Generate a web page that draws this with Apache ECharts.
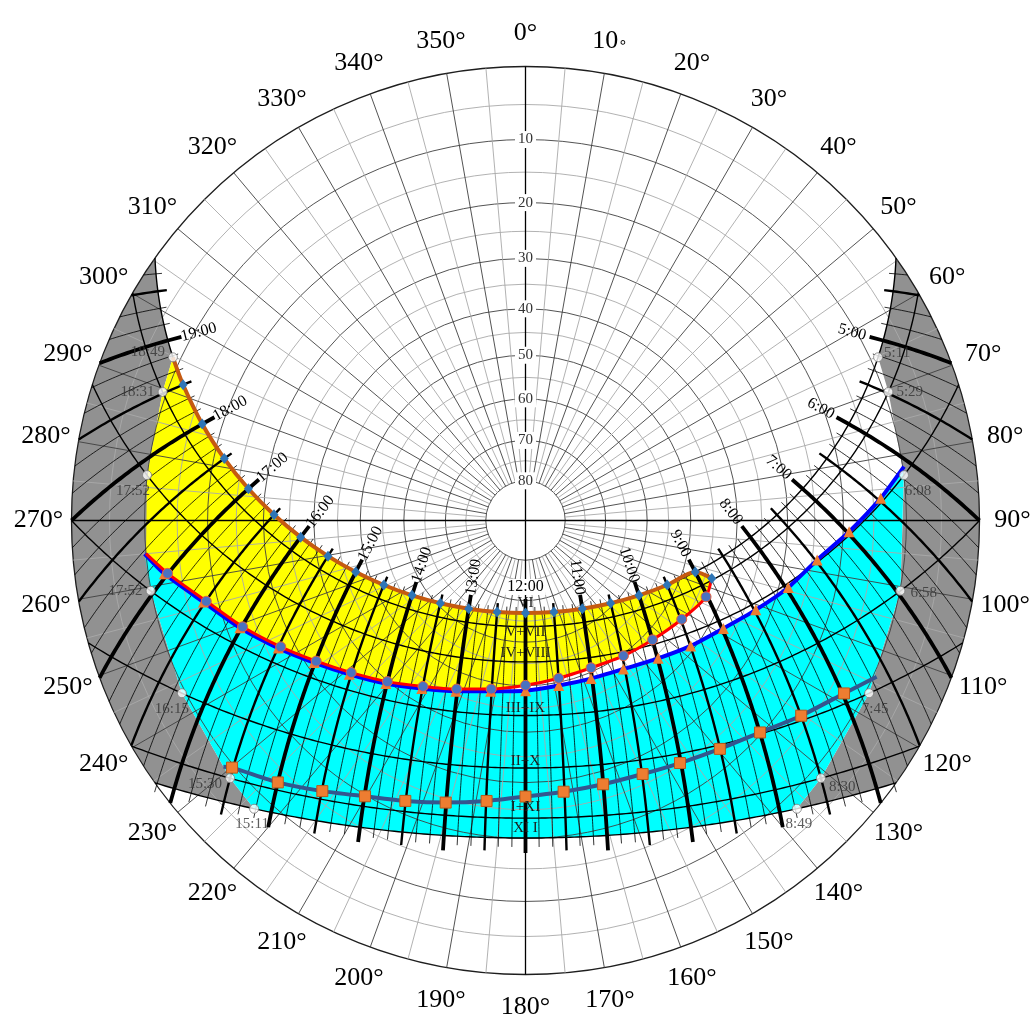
<!DOCTYPE html>
<html>
<head>
<meta charset="utf-8">
<title>Sun path diagram</title>
<script src="https://cdn.jsdelivr.net/npm/echarts@6.0.0/dist/echarts.min.js"></script>
<style>
  html, body { margin: 0; padding: 0; background: #ffffff; }
  #chart { width: 1034px; height: 1017px; }
</style>
</head>
<body>
<div id="chart"></div>
<script>
// ---------------------------------------------------------------
// Sun path diagram (stereographic projection), latitude 46.5° N
// ---------------------------------------------------------------
const LATITUDE = 46.5;

// month lines: label and solar declination in degrees
const monthLabels = ['VI', 'V+VII', 'IV+VIII', 'III+IX', 'II+X', 'I+XI', 'XI I'];
const monthDecl   = [23.44, 20.2, 11.9, 0.0, -10.7, -20.0, -23.44];

// labelled hour lines (solar time)
const hourLabels = ['5:00', '6:00', '7:00', '8:00', '9:00', '10:00', '11:00', '12:00',
                    '13:00', '14:00', '15:00', '16:00', '17:00', '18:00', '19:00'];

// azimuth and altitude graduations
const azimuthTicks  = [0, 10, 20, 30, 40, 50, 60, 70, 80, 90, 100, 110, 120, 130, 140, 150, 160, 170,
                       180, 190, 200, 210, 220, 230, 240, 250, 260, 270, 280, 290, 300, 310, 320, 330, 340, 350];
const azimuthText   = azimuthTicks.map(a => a === 10 ? '10{ring|\u2218}' : a + '\u00b0');
const altitudeTicks = [10, 20, 30, 40, 50, 60, 70, 80];

// times at which each month line (VI ... XII) meets the skyline
const morningTimes  = ['5:11', '5:29', '6:08', '6:58', '7:45', '8:30', '8:49'];
const eveningTimes  = ['18:49', '18:31', '17:52', '17:02', '16:15', '15:30', '15:11'];
const eveningLabels = ['18:49', '18:31', '17:52', '17:52', '16:15', '15:30', '15:11'];

// June line with half-hour markers, closed by its corner point [azimuth, altitude]
const juneTimes  = ['18:49', '18:30', '18:00', '17:30', '17:00', '16:30', '16:00', '15:30', '15:00', '14:30',
                    '14:00', '13:30', '13:00', '12:30', '12:00', '11:30', '11:00', '10:30', '10:00', '9:30', '9:00'];
const juneCorner = [107.3, 43.5];

// marked paths, [azimuth°, altitude°], listed from west to east
const redPath = [
  [265.0, 10.0], [261.6, 12.9], [255.8, 18.1], [249.4, 22.7], [242.7, 27.5], [236.1, 31.9],
  [228.9, 36.0], [220.6, 39.9], [211.7, 43.5], [202.2, 46.3], [191.5, 48.5], [180.0, 50.1],
  [168.1, 50.9], [156.0, 50.9], [144.1, 49.6], [133.2, 48.0], [122.3, 45.7], [112.9, 43.3],
  [107.3, 43.5]
];
const bluePath = [
  [265.0, 9.8], [261.6, 12.4], [255.8, 17.6], [249.4, 22.2], [242.7, 27.0], [236.1, 31.4],
  [228.9, 35.5], [220.6, 39.4], [211.7, 43.0], [202.2, 45.8], [191.5, 48.0], [180.0, 48.9],
  [168.6, 49.3], [157.5, 48.7], [146.6, 47.2], [136.1, 44.3], [127.2, 40.9], [118.6, 37.2],
  [111.2, 32.9], [104.3, 28.3], [97.7, 24.1], [92.0, 19.0], [86.4, 13.8], [81.9, 9.8]
];
const squarePath = [
  [230.8, 8.7], [229.9, 9.6], [223.4, 13.1], [216.9, 16.6], [210.2, 19.8], [203.2, 22.2],
  [195.8, 24.3], [187.9, 26.1], [180.0, 27.4], [172.0, 27.8], [163.6, 27.6], [155.2, 26.8],
  [147.5, 25.3], [139.6, 23.1], [132.1, 20.3], [125.3, 16.7], [118.5, 12.8], [114.0, 9.5]
];

// ---------------------------------------------------------------
// geometry helpers
// ---------------------------------------------------------------
const D2R = Math.PI / 180;
// stereographic radius of an altitude (horizon = 1, zenith = 0)
const proj = alt => Math.tan((90 - alt) * D2R / 2);
const polarValue = ([az, alt]) => [proj(alt), az];
const parseTime = s => { const [h, m] = s.split(':').map(Number); return h + m / 60; };

// sun azimuth / altitude for a declination and a solar time
function sunPos(dec, hour) {
  const H = (hour - 12) * 15 * D2R, d = dec * D2R, p = LATITUDE * D2R;
  const up = Math.sin(p) * Math.sin(d) + Math.cos(p) * Math.cos(d) * Math.cos(H);
  const east = -Math.cos(d) * Math.sin(H);
  const north = Math.cos(p) * Math.sin(d) - Math.sin(p) * Math.cos(d) * Math.cos(H);
  let az = Math.atan2(east, north) / D2R;
  if (az < 0) az += 360;
  return [az, Math.asin(Math.max(-1, Math.min(1, up))) / D2R];
}
// half length of the day in hours
function halfDay(dec) {
  const c = -Math.tan(LATITUDE * D2R) * Math.tan(dec * D2R);
  return Math.acos(Math.max(-1, Math.min(1, c))) / D2R / 15;
}
// declination at which an hour line reaches the horizon
function horizonDecl(hour) {
  const H = (hour - 12) * 15 * D2R;
  return Math.atan(-Math.cos(H) / Math.tan(LATITUDE * D2R)) / D2R;
}

const DEC_MAX = monthDecl[0], DEC_MIN = monthDecl[monthDecl.length - 1];

function makeTools(api) {
  const C = (az, alt) => api.coord([proj(alt), az]);
  const S = (dec, t) => { const [az, alt] = sunPos(dec, t); return C(az, alt); };
  const path = (dec, t0, t1) => {
    const n = Math.max(2, Math.ceil(Math.abs(t1 - t0) / 0.05));
    const pts = [];
    for (let i = 0; i <= n; i++) pts.push(S(dec, t0 + (t1 - t0) * i / n));
    return pts;
  };
  const arc = (a0, a1) => {
    const n = Math.max(2, Math.ceil(Math.abs(a1 - a0)));
    const pts = [];
    for (let i = 0; i <= n; i++) pts.push(C(a0 + (a1 - a0) * i / n, 0));
    return pts;
  };
  return { C, S, path, arc };
}

const morningT = morningTimes.map(parseTime);
const eveningT = eveningTimes.map(parseTime);

// ---------------------------------------------------------------
// shaded regions
// ---------------------------------------------------------------
const regionNames = ['skylineWest', 'skylineEast', 'summer', 'winter'];
function renderRegion(params, api) {
  const { C, S, path, arc } = makeTools(api);
  const name = regionNames[params.dataIndex];
  let pts = [], fill = '#919191';
  const hVI = halfDay(DEC_MAX), hXII = halfDay(DEC_MIN);
  if (name === 'skylineEast') {
    const riseVI = 12 - hVI, riseXII = 12 - hXII;
    pts = pts.concat(path(DEC_MAX, riseVI, morningT[0]));
    morningT.forEach((t, i) => pts.push(S(monthDecl[i], t)));
    pts = pts.concat(path(DEC_MIN, morningT[6], riseXII));
    pts = pts.concat(arc(sunPos(DEC_MIN, riseXII)[0], sunPos(DEC_MAX, riseVI)[0]));
  } else if (name === 'skylineWest') {
    const setVI = 12 + hVI, setXII = 12 + hXII;
    pts = pts.concat(path(DEC_MAX, eveningT[0], setVI));
    pts = pts.concat(arc(sunPos(DEC_MAX, setVI)[0], sunPos(DEC_MIN, setXII)[0]));
    pts = pts.concat(path(DEC_MIN, setXII, eveningT[6]));
    for (let i = 6; i >= 0; i--) pts.push(S(monthDecl[i], eveningT[i]));
  } else if (name === 'summer') {
    fill = '#ffff00';
    pts = pts.concat(path(DEC_MAX, eveningT[0], parseTime(juneTimes[juneTimes.length - 1])));
    pts.push(C(juneCorner[0], juneCorner[1]));
    for (let i = redPath.length - 1; i >= 0; i--) pts.push(C(redPath[i][0], redPath[i][1]));
    pts.push(S(monthDecl[2], eveningT[2]));
    pts.push(S(monthDecl[1], eveningT[1]));
  } else {
    fill = '#00ffff';
    bluePath.forEach(p => pts.push(C(p[0], p[1])));
    for (let i = 3; i <= 5; i++) pts.push(S(monthDecl[i], morningT[i]));
    pts = pts.concat(path(DEC_MIN, morningT[6], eveningT[6]));
    for (let i = 5; i >= 3; i--) pts.push(S(monthDecl[i], eveningT[i]));
  }
  return { type: 'polygon', shape: { points: pts }, style: { fill: fill, stroke: 'none' } };
}

// ---------------------------------------------------------------
// grid
// ---------------------------------------------------------------
const ringAlts = Array.from({ length: 17 }, (_, i) => i * 5);          // 0 ... 80
const radialAz = Array.from({ length: 72 }, (_, i) => i * 5).filter(a => a % 90 !== 0);

function renderRing(params, api) {
  const alt = ringAlts[params.dataIndex];
  const c = api.coord([0, 0]);
  const p = api.coord([proj(alt), 0]);
  const r = Math.hypot(p[0] - c[0], p[1] - c[1]);
  const stroke = alt === 0 ? '#1e1e1e' : (alt % 10 === 0 ? '#404040' : '#a9a9a9');
  return { type: 'circle', shape: { cx: c[0], cy: c[1], r: r },
           style: { fill: 'none', stroke: stroke, lineWidth: alt === 0 ? 1.3 : 0.9 } };
}
function renderRadial(params, api) {
  const az = radialAz[params.dataIndex];
  const p0 = api.coord([proj(80), az]);
  const p1 = api.coord([1, az]);
  return { type: 'line', shape: { x1: p0[0], y1: p0[1], x2: p1[0], y2: p1[1] },
           style: { stroke: az % 10 === 0 ? '#404040' : '#a9a9a9', lineWidth: 0.9 } };
}
const crossAz = [0, 90];
function renderCross(params, api) {
  const az = crossAz[params.dataIndex];
  const p0 = api.coord([1, az]);
  const p1 = api.coord([1, az + 180]);
  return { type: 'line', shape: { x1: p0[0], y1: p0[1], x2: p1[0], y2: p1[1] },
           style: { stroke: '#000', lineWidth: 1.3 } };
}

// ---------------------------------------------------------------
// month lines and time lines
// ---------------------------------------------------------------
function renderMonth(params, api) {
  const { path } = makeTools(api);
  const dec = monthDecl[params.dataIndex];
  const h = halfDay(dec);
  return { type: 'polyline', shape: { points: path(dec, 12 - h, 12 + h) },
           style: { stroke: '#000', lineWidth: 1.4, fill: 'none' } };
}

// every ten minutes between the June sunrise and sunset
const tickTimes = [];
for (let m = 4 * 60 + 20; m <= 19 * 60 + 40; m += 10) tickTimes.push(m / 60);
const tickWidth  = [3.8, 2.4, 0.8];   // hour, half hour, ten minutes
const tickTop    = [14, 9, 6];
const tickBottom = [15, 13, 9];

function renderTimeLine(params, api) {
  const { S } = makeTools(api);
  const t = tickTimes[params.dataIndex];
  const minutes = Math.round(t * 60);
  const kind = minutes % 60 === 0 ? 0 : (minutes % 30 === 0 ? 1 : 2);
  const hz = horizonDecl(t);
  const low = Math.max(DEC_MIN, hz);
  const n = Math.max(2, Math.ceil((DEC_MAX - low) / 0.5));
  const pts = [];
  for (let i = 0; i <= n; i++) pts.push(S(DEC_MAX - (DEC_MAX - low) * i / n, t));
  const ext = (p0, p1, len) => {
    const dx = p1[0] - p0[0], dy = p1[1] - p0[1], L = Math.hypot(dx, dy) || 1;
    return [p0[0] + dx / L * len, p0[1] + dy / L * len];
  };
  pts.unshift(ext(S(DEC_MAX, t), S(DEC_MAX + 1, t), tickTop[kind]));
  if (hz < DEC_MIN) pts.push(ext(S(DEC_MIN, t), S(DEC_MIN - 1, t), tickBottom[kind]));
  return { type: 'polyline', shape: { points: pts },
           style: { stroke: '#000', lineWidth: tickWidth[kind], fill: 'none' } };
}

// ---------------------------------------------------------------
// texts
// ---------------------------------------------------------------
const SERIF = 'Liberation Serif';

function renderHourLabel(params, api) {
  const { S } = makeTools(api);
  const label = hourLabels[params.dataIndex];
  const t = parseTime(label);
  const p0 = S(DEC_MAX, t), p1 = S(DEC_MAX + 2, t);
  let dx = p1[0] - p0[0], dy = p1[1] - p0[1];
  const L = Math.hypot(dx, dy) || 1; dx /= L; dy /= L;
  const noon = Math.abs(t - 12) < 1e-6;
  const dist = noon ? 26 : 32;
  let rot = 0;
  if (!noon) rot = t > 12 ? Math.atan2(-dy, dx) : Math.atan2(dy, -dx);
  const style = { text: label, fontSize: 16, fontFamily: SERIF, fill: '#000', align: 'center', verticalAlign: 'middle' };
  if (noon) { style.backgroundColor = '#fff'; style.padding = [0, 2]; }
  return { type: 'text', x: p0[0] + dx * dist, y: p0[1] + dy * dist, rotation: rot, style: style };
}

const monthLabelShift = [-10, 5, -9, -7, -7, -11, -10];
function renderMonthLabel(params, api) {
  const { S } = makeTools(api);
  const i = params.dataIndex;
  const p = S(monthDecl[i], 12);
  return { type: 'text', x: p[0], y: p[1] + monthLabelShift[i],
           style: { text: monthLabels[i], fontSize: 15, fontFamily: SERIF, fill: '#1c1c1c', align: 'center', verticalAlign: 'middle' } };
}

function renderAltitudeLabel(params, api) {
  const alt = altitudeTicks[params.dataIndex];
  const p = api.coord([proj(alt), 0]);
  return { type: 'text', x: p[0], y: p[1],
           style: { text: String(alt), fontSize: 15, fontFamily: SERIF, fill: '#333', align: 'center', verticalAlign: 'middle',
                    backgroundColor: '#fff', padding: [1, 3] } };
}

const AZ_LABEL_RADIUS = 487 / 454;
function renderAzimuthLabel(params, api) {
  const i = params.dataIndex;
  const c = api.coord([0, 0]);
  const p = api.coord([1, azimuthTicks[i]]);
  return { type: 'text',
           x: c[0] + (p[0] - c[0]) * AZ_LABEL_RADIUS, y: c[1] + (p[1] - c[1]) * AZ_LABEL_RADIUS,
           style: { text: azimuthText[i], fontSize: 26, fontFamily: SERIF, fill: '#000', align: 'center', verticalAlign: 'middle',
                    rich: { ring: { fontSize: 15, fontFamily: 'DejaVu Sans', fill: '#000', padding: [5, 0, 0, 0] } } } };
}

// ---------------------------------------------------------------
// series data
// ---------------------------------------------------------------
function lineData(points, plainFirst, plainLast) {
  return points.map((p, i) => {
    const item = { value: polarValue(p) };
    if ((plainFirst && i === 0) || (plainLast && i === points.length - 1)) item.symbol = 'none';
    return item;
  });
}
const junePoints = juneTimes.map(t => sunPos(DEC_MAX, parseTime(t))).concat([juneCorner]);

// skyline points with their time labels
const eveningLabelLayout = [
  { position: 'left', offset: [0, -5] }, { position: 'left', offset: [0, 0] },
  { position: 'bottom', offset: [-14, 0] }, { position: 'left', offset: [0, 0] },
  { position: 'bottom', offset: [-10, 0] }, { position: 'left', offset: [0, 6] },
  { position: 'bottom', offset: [-2, 0] }
];
const morningLabelLayout = [
  { position: 'right', offset: [-2, -4] }, { position: 'right', offset: [0, 0] },
  { position: 'bottom', offset: [14, 0] }, { position: 'right', offset: [2, 2] },
  { position: 'bottom', offset: [6, 0] }, { position: 'right', offset: [0, 9] },
  { position: 'bottom', offset: [2, 0] }
];
const skylineDots = [];
morningT.forEach((t, i) => skylineDots.push({ value: polarValue(sunPos(monthDecl[i], t)), name: morningTimes[i], label: morningLabelLayout[i] }));
eveningT.forEach((t, i) => skylineDots.push({ value: polarValue(sunPos(monthDecl[i], t)), name: eveningLabels[i], label: eveningLabelLayout[i] }));

const idx = arr => arr.map((_, i) => [0, i]);

const chart = echarts.init(document.getElementById('chart'), null, { renderer: 'canvas' });
chart.setOption({
  animation: false,
  backgroundColor: '#ffffff',
  polar: { center: [525.5, 520.5], radius: 454 },
  angleAxis: { type: 'value', min: 0, max: 360, startAngle: 90, clockwise: true, show: false },
  radiusAxis: { type: 'value', min: 0, max: 1, show: false },
  series: [
    { type: 'custom', name: 'regions', coordinateSystem: 'polar', silent: true, z: 1, data: idx(regionNames), renderItem: renderRegion },
    { type: 'custom', name: 'rings', coordinateSystem: 'polar', silent: true, z: 2, data: idx(ringAlts), renderItem: renderRing },
    { type: 'custom', name: 'radials', coordinateSystem: 'polar', silent: true, z: 2, data: idx(radialAz), renderItem: renderRadial },
    { type: 'custom', name: 'months', coordinateSystem: 'polar', silent: true, z: 3, data: idx(monthDecl), renderItem: renderMonth },
    { type: 'custom', name: 'times', coordinateSystem: 'polar', silent: true, z: 3, data: idx(tickTimes), renderItem: renderTimeLine },
    { type: 'custom', name: 'cross', coordinateSystem: 'polar', silent: true, z: 3, data: idx(crossAz), renderItem: renderCross },
    {
      type: 'line', name: 'blue', coordinateSystem: 'polar', z: 4, silent: true,
      data: lineData(bluePath, true, true), smooth: 0.2,
      lineStyle: { color: '#0000ff', width: 4 },
      symbol: 'triangle', symbolSize: 11, itemStyle: { color: '#ed7d31' }
    },
    {
      type: 'line', name: 'red', coordinateSystem: 'polar', z: 5, silent: true,
      data: lineData(redPath, true, true), smooth: 0.2,
      lineStyle: { color: '#ff0000', width: 3 },
      symbol: 'circle', symbolSize: 10, itemStyle: { color: '#4a72c0', borderColor: '#e8603c', borderWidth: 1 }
    },
    {
      type: 'line', name: 'squares', coordinateSystem: 'polar', z: 4, silent: true,
      data: lineData(squarePath, true, true), smooth: 0.2,
      lineStyle: { color: '#34568f', width: 4 },
      symbol: 'rect', symbolSize: 11, itemStyle: { color: '#ed7d31', borderColor: '#b55a1c', borderWidth: 1 }
    },
    {
      type: 'line', name: 'june', coordinateSystem: 'polar', z: 5, silent: true,
      data: lineData(junePoints, true, false), smooth: 0.3,
      lineStyle: { color: '#c55a11', width: 4 },
      symbol: 'diamond', symbolSize: [9, 11], itemStyle: { color: '#2e75b6' }
    },
    {
      type: 'scatter', name: 'skyline', coordinateSystem: 'polar', z: 6, silent: true,
      data: skylineDots, symbol: 'circle', symbolSize: 9,
      itemStyle: { color: '#ffffff', borderColor: '#7a7a7a', borderWidth: 1 },
      label: { show: true, formatter: '{b}', distance: 3, fontFamily: SERIF, fontSize: 15, color: '#333' }
    },
    { type: 'custom', name: 'hourLabels', coordinateSystem: 'polar', silent: true, z: 7, data: idx(hourLabels), renderItem: renderHourLabel },
    { type: 'custom', name: 'monthLabels', coordinateSystem: 'polar', silent: true, z: 7, data: idx(monthLabels), renderItem: renderMonthLabel },
    { type: 'custom', name: 'altitudeLabels', coordinateSystem: 'polar', silent: true, z: 7, data: idx(altitudeTicks), renderItem: renderAltitudeLabel },
    { type: 'custom', name: 'azimuthLabels', coordinateSystem: 'polar', silent: true, z: 7, data: idx(azimuthTicks), renderItem: renderAzimuthLabel }
  ]
});
</script>
</body>
</html>
